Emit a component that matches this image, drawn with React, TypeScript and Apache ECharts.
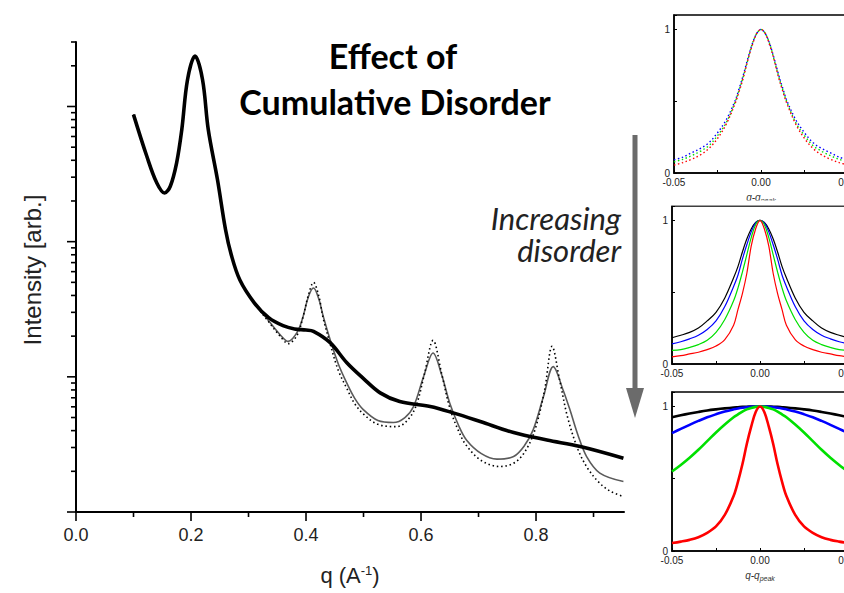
import { useEffect, useRef } from "react";
import * as echarts from "echarts";

// Main pattern: scattering vector q (1/Å) against intensity (arb. units, log scale)
const qDisordered = [0.100, 0.123, 0.140, 0.154, 0.164, 0.175, 0.184, 0.194, 0.207, 0.220, 0.230, 0.246, 0.260, 0.270, 0.285, 0.310, 0.335, 0.360, 0.380, 0.400, 0.413, 0.442, 0.471, 0.500, 0.529, 0.563, 0.616, 0.656, 0.703, 0.761, 0.819, 0.877, 0.952];
const iDisordered = [871, 430, 275, 229, 257, 383, 675, 1585, 2360, 1585, 675, 288, 123, 80, 52, 35.3, 27.4, 23.9, 22.6, 22.2, 21.7, 17.9, 12.7, 9.7, 7.61, 6.56, 6.03, 5.41, 4.67, 3.87, 3.41, 3.05, 2.5];

const qPartial = [0.100, 0.123, 0.140, 0.154, 0.164, 0.175, 0.184, 0.194, 0.207, 0.220, 0.230, 0.246, 0.260, 0.270, 0.285, 0.310, 0.335, 0.355, 0.369, 0.385, 0.395, 0.404, 0.413, 0.422, 0.430, 0.442, 0.456, 0.471, 0.485, 0.500, 0.525, 0.552, 0.572, 0.587, 0.605, 0.621, 0.636, 0.650, 0.665, 0.679, 0.705, 0.732, 0.761, 0.780, 0.795, 0.813, 0.830, 0.847, 0.859, 0.873, 0.888, 0.911, 0.952];
const iPartial = [871, 430, 275, 229, 257, 383, 675, 1585, 2360, 1585, 675, 288, 123, 80, 52, 35.3, 26, 20.5, 18.3, 21.5, 28, 39, 45.4, 38, 28, 18.8, 12.5, 8.98, 6.9, 5.7, 4.75, 4.59, 5.0, 6.03, 10.2, 15.0, 10.3, 6.38, 4.4, 3.41, 2.7, 2.46, 2.57, 3.1, 4.05, 7.14, 11.9, 8.0, 5.7, 3.7, 2.57, 1.94, 1.68];

const qOrdered = [0.100, 0.123, 0.140, 0.154, 0.164, 0.175, 0.184, 0.194, 0.207, 0.220, 0.230, 0.246, 0.260, 0.270, 0.285, 0.310, 0.335, 0.355, 0.369, 0.385, 0.395, 0.404, 0.413, 0.422, 0.430, 0.442, 0.456, 0.471, 0.485, 0.500, 0.525, 0.558, 0.577, 0.592, 0.606, 0.621, 0.636, 0.650, 0.665, 0.679, 0.705, 0.737, 0.765, 0.785, 0.800, 0.815, 0.828, 0.841, 0.855, 0.873, 0.890, 0.911, 0.930, 0.952];
const iOrdered = [871, 430, 275, 229, 257, 383, 675, 1585, 2360, 1585, 675, 288, 123, 80, 52, 35.3, 25.5, 20, 17.6, 20.5, 28, 40, 50, 40, 27, 17.5, 11.2, 8.2, 6.3, 5.3, 4.45, 4.28, 4.8, 6.2, 10.5, 18.6, 10.5, 5.9, 4.0, 3.1, 2.4, 2.17, 2.35, 3.0, 4.3, 8.0, 16.8, 9.5, 5.0, 2.9, 2.1, 1.63, 1.42, 1.3];

// Axis tick positions
const xTickMajor = [0, 0.2, 0.4, 0.6, 0.8];
const xTickMinor = [0.1, 0.3, 0.5, 0.7, 0.9];
const yTickMajor = [1, 10, 100, 1000];
const yTickMinor = [2, 3, 4, 5, 6, 7, 8, 9, 20, 30, 40, 50, 60, 70, 80, 90, 200, 300, 400, 500, 600, 700, 800, 900, 2000, 3000];

// Peak profiles against q - q_peak (finer spacing near the peak)
const dq = [-0.05, -0.045, -0.04, -0.035, -0.03, -0.025, -0.02, -0.015, -0.0125, -0.01, -0.0075, -0.005, -0.0025, 0, 0.0025, 0.005, 0.0075, 0.01, 0.0125, 0.015, 0.02, 0.025, 0.03, 0.035, 0.04, 0.045, 0.05];

const topRed = [0.055, 0.072, 0.095, 0.125, 0.17, 0.24, 0.34, 0.48, 0.57, 0.67, 0.79, 0.89, 0.97, 1, 0.97, 0.89, 0.79, 0.67, 0.57, 0.48, 0.34, 0.24, 0.17, 0.125, 0.095, 0.072, 0.055];
const topGreen = [0.078, 0.095, 0.12, 0.15, 0.19, 0.26, 0.35, 0.49, 0.58, 0.68, 0.79, 0.9, 0.97, 1, 0.97, 0.9, 0.79, 0.68, 0.58, 0.49, 0.35, 0.26, 0.19, 0.15, 0.12, 0.095, 0.078];
const topBlue = [0.092, 0.11, 0.14, 0.17, 0.21, 0.28, 0.37, 0.5, 0.59, 0.69, 0.8, 0.9, 0.97, 1, 0.97, 0.9, 0.8, 0.69, 0.59, 0.5, 0.37, 0.28, 0.21, 0.17, 0.14, 0.11, 0.092];

const midRed = [0.05, 0.058, 0.07, 0.082, 0.1, 0.125, 0.17, 0.27, 0.38, 0.49, 0.63, 0.82, 0.94, 1, 0.94, 0.82, 0.63, 0.49, 0.38, 0.27, 0.17, 0.125, 0.1, 0.082, 0.07, 0.058, 0.05];
const midGreen = [0.095, 0.1, 0.115, 0.135, 0.165, 0.22, 0.31, 0.44, 0.53, 0.64, 0.76, 0.88, 0.97, 1, 0.97, 0.88, 0.76, 0.64, 0.53, 0.44, 0.31, 0.22, 0.165, 0.135, 0.115, 0.1, 0.095];
const midBlue = [0.14, 0.155, 0.175, 0.2, 0.24, 0.3, 0.4, 0.54, 0.62, 0.73, 0.83, 0.92, 0.98, 1, 0.98, 0.92, 0.83, 0.73, 0.62, 0.54, 0.4, 0.3, 0.24, 0.2, 0.175, 0.155, 0.14];
const midBlack = [0.183, 0.2, 0.22, 0.25, 0.3, 0.36, 0.46, 0.6, 0.68, 0.78, 0.87, 0.94, 0.985, 1, 0.985, 0.94, 0.87, 0.78, 0.68, 0.6, 0.46, 0.36, 0.3, 0.25, 0.22, 0.2, 0.183];

const lowRed = [0.055, 0.065, 0.077, 0.095, 0.125, 0.17, 0.25, 0.38, 0.48, 0.6, 0.74, 0.86, 0.96, 1, 0.96, 0.86, 0.74, 0.6, 0.48, 0.38, 0.25, 0.17, 0.125, 0.095, 0.077, 0.065, 0.055];
const lowGreen = [0.55, 0.595, 0.645, 0.7, 0.76, 0.82, 0.875, 0.925, 0.945, 0.965, 0.98, 0.99, 0.997, 1, 0.997, 0.99, 0.98, 0.965, 0.945, 0.925, 0.875, 0.82, 0.76, 0.7, 0.645, 0.595, 0.55];
const lowBlue = [0.816, 0.845, 0.873, 0.9, 0.925, 0.946, 0.965, 0.98, 0.986, 0.991, 0.995, 0.998, 0.999, 1, 0.999, 0.998, 0.995, 0.991, 0.986, 0.98, 0.965, 0.946, 0.925, 0.9, 0.873, 0.845, 0.816];
const lowBlack = [0.926, 0.939, 0.951, 0.962, 0.972, 0.98, 0.987, 0.993, 0.995, 0.997, 0.998, 0.999, 1, 1, 1, 0.999, 0.998, 0.997, 0.995, 0.993, 0.987, 0.98, 0.972, 0.962, 0.951, 0.939, 0.926];

const SANS = "Liberation Sans";
const pairs = (xs: number[], ys: number[]) => xs.map((x, i) => [x, ys[i]]);

export default function App() {
  const ref = useRef<HTMLDivElement>(null);

  useEffect(() => {
    if (!ref.current) return;
    const chart = echarts.init(ref.current, undefined, { renderer: "svg" });

    // the inset frames run past the right edge of the page
    const insetGrids = [
      { left: 674, top: 15, width: 174, height: 158 },
      { left: 672, top: 206, width: 176, height: 158 },
      { left: 672, top: 392, width: 176, height: 159 },
    ];

    const insetX = (i: number, withName: boolean) => ({
      type: "value",
      gridIndex: i,
      min: -0.05,
      max: 0.05,
      interval: 0.025,
      name: withName ? "{n|q-q}{s|peak}" : "",
      nameLocation: "middle",
      nameGap: 18,
      nameTextStyle: {
        rich: {
          n: { fontSize: 10, fontStyle: "italic", color: "#333", fontFamily: SANS },
          s: { fontSize: 7, fontStyle: "italic", color: "#333", fontFamily: SANS, verticalAlign: "bottom", padding: [6, 0, 0, 0] },
        },
      },
      axisLine: { show: true, onZero: false, lineStyle: { color: "#000", width: 1.5 } },
      axisTick: { show: true, inside: true, length: 3, lineStyle: { color: "#000" } },
      axisLabel: {
        fontSize: 10,
        color: "#222",
        fontFamily: SANS,
        margin: 4,
        formatter: (v: number) => (Math.abs(Math.round(v / 0.05) * 0.05 - v) < 1e-6 ? v.toFixed(2) : ""),
      },
      splitLine: { show: false },
    });

    const insetY = (i: number) => ({
      type: "value",
      gridIndex: i,
      min: 0,
      max: 1.1,
      interval: 0.5,
      axisLine: { show: true, onZero: false, lineStyle: { color: "#000", width: 1.5 } },
      axisTick: { show: true, inside: true, length: 3, lineStyle: { color: "#000" } },
      axisLabel: {
        fontSize: 10,
        color: "#222",
        fontFamily: SANS,
        margin: 4,
        formatter: (v: number) => (v === 0 ? "0" : Math.abs(v - 1) < 1e-9 ? "1" : ""),
      },
      splitLine: { show: false },
    });

    const profile = (idx: number, ys: number[], color: string, width: number, dotted = false) => ({
      type: "line",
      xAxisIndex: idx,
      yAxisIndex: idx,
      data: pairs(dq, ys),
      smooth: 0.35,
      showSymbol: false,
      symbol: "none",
      silent: true,
      lineStyle: { color, width, type: dotted ? [1.5, 2.5] : "solid" },
    });

    const tickStyle = { stroke: "#000", lineWidth: 1.6 };

    chart.setOption({
      animation: false,
      backgroundColor: "#fff",
      grid: [
        { left: 76, top: 42, width: 548, height: 470, outerBoundsMode: "none" },
        ...insetGrids.map((g) => ({
          ...g,
          outerBoundsMode: "none",
          show: true,
          borderColor: "#000",
          borderWidth: 1.5,
          backgroundColor: "#fff",
        })),
      ],
      xAxis: [
        {
          type: "value",
          gridIndex: 0,
          min: 0,
          max: 0.953,
          interval: 0.2,
          name: "{n|q (A}{s|-1}{n|)}",
          nameLocation: "middle",
          nameGap: 52,
          nameTextStyle: {
            rich: {
              n: { fontSize: 22, color: "#222", fontFamily: SANS },
              s: { fontSize: 13, color: "#222", fontFamily: SANS, verticalAlign: "top", padding: [0, 0, 9, 0] },
            },
          },
          axisLine: { show: true, onZero: false, lineStyle: { color: "#000", width: 2 } },
          axisTick: { show: false },
          axisLabel: {
            fontSize: 18,
            color: "#222",
            fontFamily: SANS,
            margin: 14,
            formatter: (v: number) => (Math.abs(Math.round(v / 0.2) * 0.2 - v) < 1e-6 ? v.toFixed(1) : ""),
          },
          splitLine: { show: false },
        },
        insetX(1, true),
        insetX(2, false),
        insetX(3, true),
      ],
      yAxis: [
        {
          type: "log",
          logBase: 10,
          gridIndex: 0,
          min: 1,
          max: 3000,
          name: "Intensity [arb.]",
          nameLocation: "middle",
          nameGap: 32,
          nameTextStyle: { fontSize: 24, color: "#222", fontFamily: SANS, padding: [0, 0, 0, 14] },
          axisLine: { show: true, onZero: false, lineStyle: { color: "#000", width: 2 } },
          axisTick: { show: false },
          axisLabel: { show: false },
          splitLine: { show: false },
        },
        insetY(1),
        insetY(2),
        insetY(3),
      ],
      series: [
        {
          type: "line",
          data: pairs(qPartial, iPartial),
          smooth: 0.35,
          symbol: "none",
          silent: true,
          lineStyle: { color: "#5a5a5a", width: 1.6 },
          z: 2,
        },
        {
          type: "line",
          data: pairs(qOrdered, iOrdered),
          smooth: 0.35,
          symbol: "none",
          silent: true,
          lineStyle: { color: "#000", width: 1.6, type: [1.5, 2.8] },
          z: 3,
        },
        {
          type: "line",
          data: pairs(qDisordered, iDisordered),
          smooth: 0.35,
          symbol: "none",
          silent: true,
          lineStyle: { color: "#000", width: 3.6 },
          z: 4,
        },
        {
          // tick marks on the q axis: long at labelled values, short between
          type: "custom",
          xAxisIndex: 0,
          yAxisIndex: 0,
          silent: true,
          clip: false,
          encode: { x: 0, y: 1 },
          data: [...xTickMajor.map((v) => [v, 1, 9]), ...xTickMinor.map((v) => [v, 1, 5])],
          renderItem: (_p: any, api: any) => {
            const pt = api.coord([api.value(0), 1]);
            return { type: "line", shape: { x1: pt[0], y1: pt[1], x2: pt[0], y2: pt[1] + api.value(2) }, style: tickStyle };
          },
          z: 5,
        },
        {
          // logarithmic tick marks on the intensity axis
          type: "custom",
          xAxisIndex: 0,
          yAxisIndex: 0,
          silent: true,
          clip: false,
          encode: { x: 0, y: 1 },
          data: [...yTickMajor.map((v) => [0, v, 9]), ...yTickMinor.map((v) => [0, v, 5])],
          renderItem: (_p: any, api: any) => {
            const pt = api.coord([0, api.value(1)]);
            return { type: "line", shape: { x1: pt[0] - api.value(2), y1: pt[1], x2: pt[0], y2: pt[1] }, style: tickStyle };
          },
          z: 5,
        },
        profile(1, topBlue, "#0000ff", 1.4, true),
        profile(1, topGreen, "#00e000", 1.4, true),
        profile(1, topRed, "#ff0000", 1.4, true),
        profile(2, midBlack, "#000", 1.2),
        profile(2, midBlue, "#0000ff", 1.2),
        profile(2, midGreen, "#00e000", 1.2),
        profile(2, midRed, "#ff0000", 1.2),
        profile(3, lowBlack, "#000", 2.6),
        profile(3, lowBlue, "#0000ff", 2.6),
        profile(3, lowGreen, "#00e000", 2.6),
        profile(3, lowRed, "#ff0000", 2.6),
      ],
      graphic: [
        {
          type: "text",
          z: 100,
          style: { text: "Effect of", x: 393, y: 55, font: "bold 34px Lato", fill: "#000", align: "center", verticalAlign: "middle" },
        },
        {
          type: "text",
          z: 100,
          style: { text: "Cumulative Disorder", x: 395, y: 101, font: "bold 34px Lato", fill: "#000", align: "center", verticalAlign: "middle" },
        },
        {
          type: "text",
          z: 100,
          style: { text: "Increasing", x: 621, y: 218, font: "italic 31px Lato", fill: "#222", align: "right", verticalAlign: "middle" },
        },
        {
          type: "text",
          z: 100,
          style: { text: "disorder", x: 621, y: 250, font: "italic 31px Lato", fill: "#222", align: "right", verticalAlign: "middle" },
        },
        {
          type: "line",
          z: 100,
          shape: { x1: 635, y1: 135, x2: 635, y2: 392 },
          style: { stroke: "#6b6b6b", lineWidth: 5 },
        },
        {
          type: "polygon",
          z: 100,
          shape: { points: [[626, 388], [644, 388], [635, 418]] },
          style: { fill: "#6b6b6b" },
        },
        {
          type: "rect",
          z: 100,
          shape: { x: 655, y: 200.5, width: 189, height: 5 },
          style: { fill: "#fff" },
        },
      ],
    });

    return () => chart.dispose();
  }, []);

  return <div ref={ref} style={{ position: "fixed", left: 0, top: 0, width: 844, height: 593 }} />;
}
